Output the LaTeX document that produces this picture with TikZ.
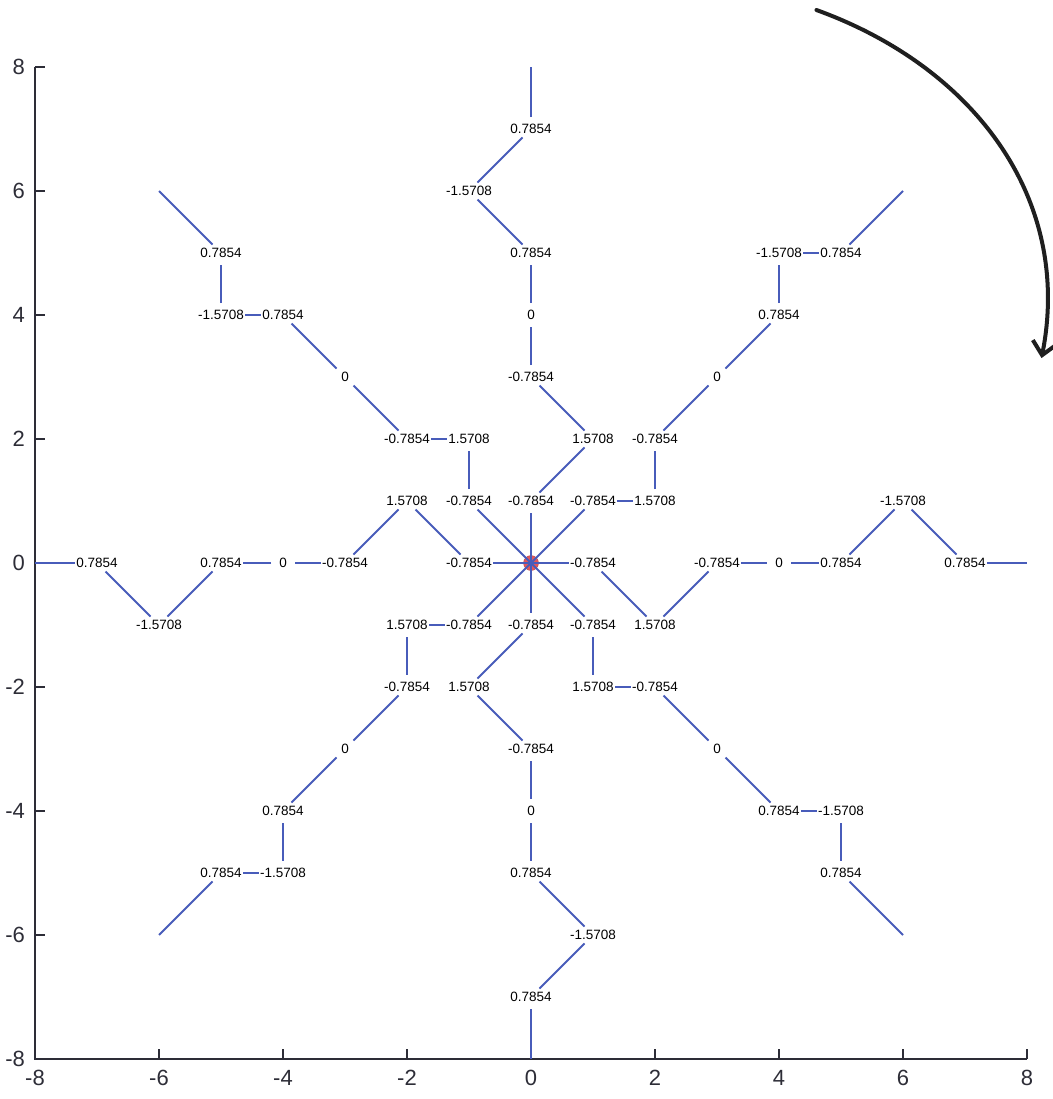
\documentclass[tikz,border=0pt]{standalone}
\usepackage{fontspec}
\setsansfont{Liberation Sans}
\usepackage{xcolor}
\usepackage{tikz}
\usetikzlibrary{arrows.meta}

\definecolor{armblue}{RGB}{72,92,186}
\definecolor{axisgray}{RGB}{45,45,55}
\definecolor{markred}{RGB}{226,88,92}

\begin{document}
\begin{tikzpicture}[
    x=62pt, y=62pt,
    every node/.style={font=\sffamily},
    link/.style={armblue, line width=1.9pt},
    lbl/.style={fill=white, inner sep=1pt, text=black, font=\sffamily\fontsize{13.5}{15}\selectfont},
    ticklbl/.style={inner sep=0pt, text=axisgray, font=\sffamily\fontsize{22}{24}\selectfont},
    axisline/.style={axisgray, line width=2pt},
    marker/.style={circle, fill=markred, draw=markred!80!black, minimum size=15pt, inner sep=0pt}
]
    \useasboundingbox (-8.565,-8.645) rectangle (8.419,9.081);

    % Axes
    \coordinate (ll) at (-8,-8);
    \coordinate (ul) at (-8,8);
    \coordinate (lr) at (8,-8);
    \draw[axisline] (ul) -- (ll) -- (lr);
    \foreach \v in {-8,-6,...,8}{
        \draw[axisline] (\v,-8) -- ++(0,10pt);
        \draw[axisline] (-8,\v) -- ++(10pt,0);
        \node[ticklbl, anchor=north] (xt\v) at ([yshift=-11pt]\v,-8) {\v};
        \node[ticklbl, anchor=east] (yt\v) at ([xshift=-10pt]-8,\v) {\v};
    }

    % Centre
    \node[marker] (o) at (0,0) {};

    % Arm vertices, four quarter turns clockwise
    \foreach \r/\k in {0/1,-90/2,-180/3,-270/4}{
        \begin{scope}[rotate=\r]
            \foreach \px/\py [count=\i] in {0/1,1/2,0/3,0/4,0/5,-1/6,0/7,0/8}
                \coordinate (a\k-\i) at (\px,\py);
            \foreach \px/\py [count=\i] in {1/1,2/1,2/2,3/3,4/4,4/5,5/5,6/6}
                \coordinate (d\k-\i) at (\px,\py);
        \end{scope}
    }

    % Arms
    \foreach \arm in {a1,a2,a3,a4,d1,d2,d3,d4}{
        \draw[link, shorten >=12pt] (o.center) -- (\arm-1);
        \foreach \i [evaluate=\i as \j using int(\i+1)] in {1,...,6}
            \draw[link, shorten <=12pt, shorten >=12pt] (\arm-\i) -- (\arm-\j);
        \draw[link, shorten <=12pt] (\arm-7) -- (\arm-8);
    }

    % Turn labels
    \foreach \arm in {a1,a2,a3,a4,d1,d2,d3,d4}{
        \foreach \lab [count=\i] in {-0.7854,1.5708,-0.7854,0,0.7854,-1.5708,0.7854}
            \node[lbl] (\arm-\i t) at (\arm-\i) {\lab};
    }

    % Turning direction
    \coordinate (rs) at (4.605,8.919);
    \coordinate (re) at (8.234,3.306);
    \draw[line width=4pt, black!88, line cap=round, -{Straight Barb[length=13pt,width=24pt]}]
        (rs) .. controls (7.185,7.984) and (8.734,5.839) .. (re);
\end{tikzpicture}
\end{document}
